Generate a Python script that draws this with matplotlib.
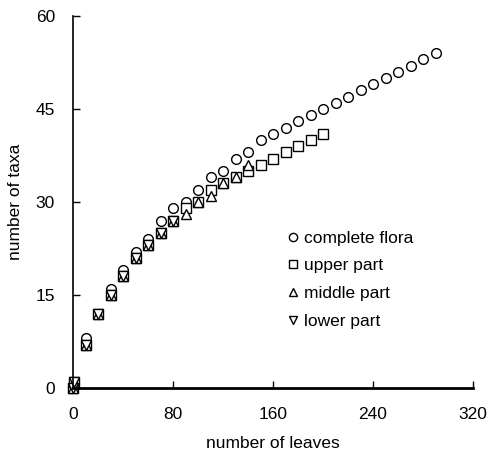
import matplotlib.pyplot as plt
import numpy as np

plt.rcParams['font.family'] = ['Liberation Sans', 'DejaVu Sans']

# number of leaves sampled (rarefaction steps)
leaves_complete = [0, 1] + list(range(10, 300, 10))
taxa_complete = [0, 1, 8, 12, 16, 19, 22, 24, 27, 29, 30, 32, 34, 35, 37, 38,
                 40, 41, 42, 43, 44, 45, 46, 47, 48, 49, 50, 51, 52, 53, 54]

leaves_upper = [0, 1] + list(range(10, 210, 10))
taxa_upper = [0, 1, 7, 12, 15, 18, 21, 23, 25, 27, 29, 30, 32, 33, 34, 35,
              36, 37, 38, 39, 40, 41]

leaves_middle = [0, 1] + list(range(10, 150, 10))
taxa_middle = [0, 1, 7, 12, 15, 18, 21, 23, 25, 27, 28, 30, 31, 33, 34, 36]

leaves_lower = [0, 1] + list(range(10, 90, 10))
taxa_lower = [0, 1, 7, 12, 15, 18, 21, 23, 25, 27]

fig = plt.figure(figsize=(4.97, 4.54), dpi=100)
ax = fig.add_axes([73 / 497, 66 / 454, 400 / 497, 372 / 454])

style = dict(linestyle='none', markerfacecolor='white', markeredgecolor='black',
             markeredgewidth=1.0, clip_on=False)
ax.plot(leaves_complete, taxa_complete, marker='o', markersize=7, label='complete flora', **style)
ax.plot(leaves_upper, taxa_upper, marker='s', markersize=6.5, label='upper part', **style)
ax.plot(leaves_middle, taxa_middle, marker='^', markersize=6.5, label='middle part', **style)
ax.plot(leaves_lower, taxa_lower, marker='v', markersize=6.5, label='lower part', **style)

ax.set_xlim(0, 320)
ax.set_ylim(0, 60)
ax.set_xticks([0, 80, 160, 240, 320])
ax.set_yticks([0, 15, 30, 45, 60])
ax.spines['top'].set_visible(False)
ax.spines['right'].set_visible(False)
ax.spines['left'].set_linewidth(1.2)
ax.spines['bottom'].set_linewidth(2)
ax.tick_params(direction='in', length=5, width=1, labelsize=12.5)
ax.tick_params(axis='x', pad=14)
ax.tick_params(axis='y', pad=13)

ax.set_xlabel('number of leaves', fontsize=12.5, labelpad=10)
ax.set_ylabel('number of taxa', fontsize=12.5, labelpad=9)

ax.legend(loc='upper left', bbox_to_anchor=(0.49, 0.465), frameon=False,
          fontsize=12.5, handletextpad=0.12, labelspacing=0.72, markerscale=0.85,
          handlelength=1.0)

fig.savefig('out.png', dpi=100)
